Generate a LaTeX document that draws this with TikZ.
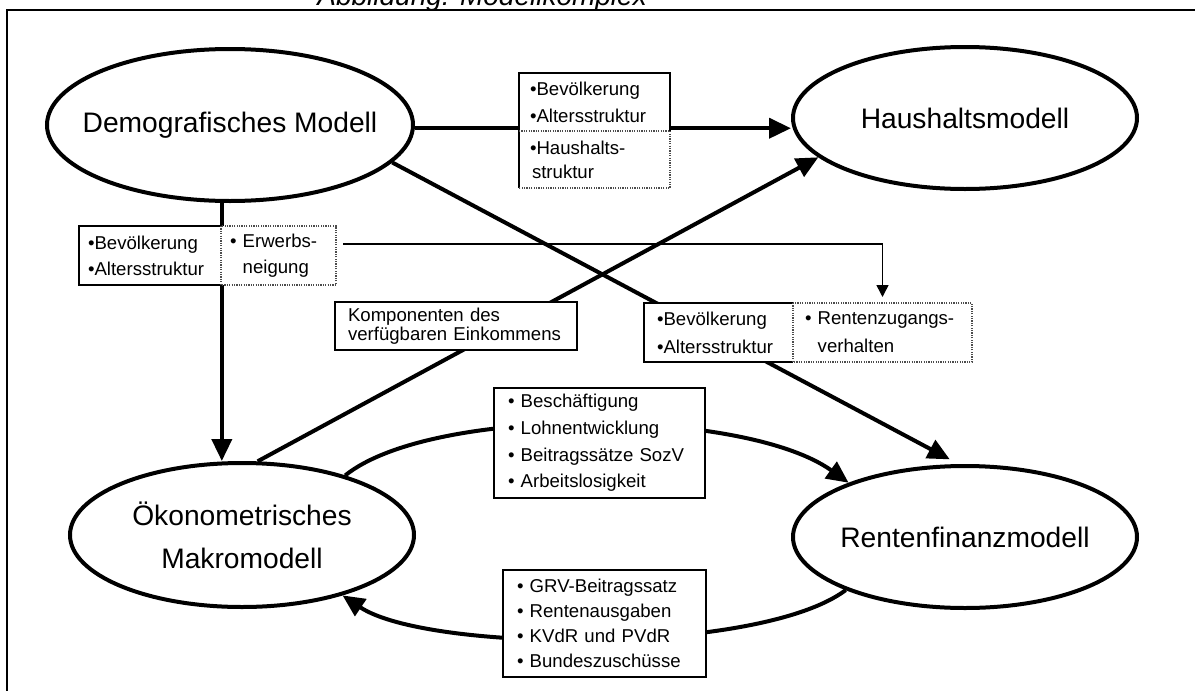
\documentclass[tikz,border=0pt]{standalone}
\usepackage{fontspec}
\setmainfont{Liberation Sans}
\usetikzlibrary{arrows.meta,shapes.geometric}
\begin{document}
\begin{tikzpicture}[x=0.5pt,y=-0.5pt,
  model/.style={draw, ellipse, line width=2pt, fill=white, inner sep=0pt},
  mlabel/.style={font=\fontsize{14.1}{21.5}\selectfont, align=center},
  boxnode/.style={anchor=north west, fill=white, inner ysep=0pt, outer sep=0pt, align=left},
  solidbox/.style={boxnode, draw, line width=0.75pt},
  boxline/.style={line width=0.75pt},
  dotline/.style={line width=0.6pt, draw=black!70, dash pattern=on 0.6pt off 0.6pt},
  flow/.style={line width=2pt, -{Triangle[length=11pt,width=10pt]}},
  thinflow/.style={line width=0.75pt, -{Triangle[length=6pt,width=6pt]}},
  frameline/.style={line width=1pt},
]
\useasboundingbox (0,0) rectangle (1195,691);

% title (cut by the top edge) and frame
\node[anchor=base west, inner sep=0pt, font=\fontsize{14}{16}\selectfont\itshape] (title) at (317,5) {Abbildung: Modellkomplex};
\draw[frameline] (7,691) -- (7,10) -- (1195,10);

% models
\node[model, minimum width=183pt, minimum height=76pt, label={[mlabel]center:Demografisches Modell}] (demog) at (230,125) {};
\node[model, minimum width=172pt, minimum height=71pt, label={[mlabel]center:Haushaltsmodell}] (haus) at (965,118) {};
\node[model, minimum width=172pt, minimum height=72pt, label={[mlabel]center:{Ökonometrisches\\Makromodell}}] (okono) at (242,535) {};
\node[model, minimum width=172pt, minimum height=71pt, label={[mlabel]center:Rentenfinanzmodell}] (renten) at (965,537) {};

% connectors
\draw[flow] (demog.-1.6) -- (demog.-1.6 -| haus.west);
\draw[flow] (demog.-96.8) -- (demog.-96.8 |- okono.north);
\draw[flow] (okono.78.2) -- (haus.195.9);
\draw[flow, shorten >=5pt] (demog.-13.7) -- (renten.95.6);
\draw[flow] (okono.30) .. controls +(87,-70) and +(-105,-75) .. (renten.155.4);
\draw[flow] (renten.204.2) .. controls +(-87,65) and +(85,57) .. (okono.-31.5);

% box A
\node[boxnode, minimum width=75.5pt, minimum height=29pt, inner xsep=5.5pt, text width=64.5pt, font=\fontsize{9.3}{13.5}\selectfont] (aTop) at (519,73) {•Bevölkerung\\•Altersstruktur};
\node[boxnode, minimum width=75.5pt, minimum height=28.5pt, inner xsep=5.5pt, text width=64.5pt, font=\fontsize{9.3}{12}\selectfont] (aBot) at (519,131) {•Haushalts-\\\hspace*{1pt}struktur};
\draw[boxline] (aBot.south west) -- (aTop.north west) -- (aTop.north east) -- (aTop.south east);
\draw[dotline] (aTop.south west) -- (aTop.south east) -- (aBot.south east) -- (aBot.south west);

% box B
\node[boxnode, minimum width=71pt, minimum height=29.5pt, inner xsep=4.5pt, text width=62pt, font=\fontsize{9.3}{13}\selectfont] (bL) at (79,226) {•Bevölkerung\\•Altersstruktur};
\node[boxnode, minimum width=57.5pt, minimum height=29.5pt, inner xsep=4.5pt, text width=48.5pt, font=\fontsize{9.3}{13}\selectfont] (bR) at (221,226) {• Erwerbs-\\\phantom{• }neigung};
\draw[boxline] (bL.north east) -- (bL.north west) -- (bL.south west) -- (bL.south east);
\draw[dotline] (bR.north west) rectangle (bR.south east);

% box C
\node[solidbox, minimum width=121pt, minimum height=24pt, inner xsep=6.5pt, text width=108pt, font=\fontsize{9.3}{7.6}\selectfont] (cBox) at (335,302) {Komponenten des\\verfügbaren Einkommens};

% box D
\node[boxnode, minimum width=74.5pt, minimum height=29.5pt, inner xsep=6.5pt, text width=61.5pt, font=\fontsize{9.3}{14}\selectfont] (dL) at (644,303) {•Bevölkerung\\•Altersstruktur};
\node[boxnode, minimum width=89.5pt, minimum height=29.5pt, inner xsep=6pt, text width=77.5pt, font=\fontsize{9.3}{14}\selectfont] (dR) at (793,303) {• Rentenzugangs-\\\phantom{• }verhalten};
\draw[boxline] (dL.north east) -- (dL.north west) -- (dL.south west) -- (dL.south east);
\draw[dotline] (dR.north west) rectangle (dR.south east);

% box E
\node[solidbox, minimum width=105.5pt, minimum height=55pt, inner xsep=7pt, text width=91.5pt, font=\fontsize{9.3}{13.3}\selectfont] (eBox) at (494,388) {• Beschäftigung\\• Lohnentwicklung\\• Beitragssätze SozV\\• Arbeitslosigkeit};

% box F
\node[solidbox, minimum width=101.5pt, minimum height=53.5pt, inner xsep=7pt, text width=87.5pt, font=\fontsize{9.3}{12.5}\selectfont] (fBox) at (503,570) {• GRV-Beitragssatz\\• Rentenausgaben\\• KVdR und PVdR\\• Bundeszuschüsse};

% thin connector
\coordinate (tstart) at ([shift={(3.5pt,5.75pt)}]bR.east);
\draw[thinflow, shorten >=3pt] (tstart) -| (dR.north);
\end{tikzpicture}
\end{document}
